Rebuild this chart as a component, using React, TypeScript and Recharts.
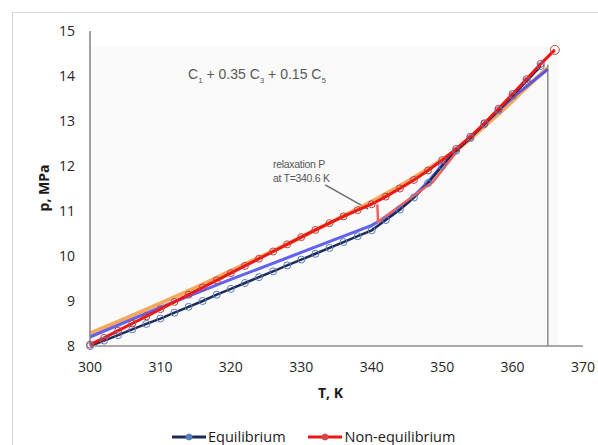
import React from 'react';
import { ComposedChart, Line, XAxis, YAxis, ReferenceLine, ReferenceArea } from 'recharts';

// temperature, K and pressure, MPa
const eqT = [300, 302, 304, 306, 308, 310, 312, 314, 316, 318, 320, 322, 324, 326, 328, 330, 332, 334, 336, 338, 340, 342, 344, 346, 348, 350, 352, 354, 356, 358, 360, 362, 364];
const eqP = [8.0, 8.12, 8.24, 8.37, 8.49, 8.61, 8.74, 8.87, 9.0, 9.14, 9.27, 9.4, 9.53, 9.66, 9.79, 9.92, 10.05, 10.18, 10.31, 10.44, 10.57, 10.8, 11.03, 11.3, 11.62, 12.0, 12.34, 12.62, 12.93, 13.24, 13.56, 13.89, 14.22];

const neqT = [300, 302, 304, 306, 308, 310, 312, 314, 316, 318, 320, 322, 324, 326, 328, 330, 332, 334, 336, 338, 340, 342, 344, 346, 348, 350, 352, 354, 356, 358, 360, 362, 364, 366];
const neqP = [8.03, 8.18, 8.34, 8.5, 8.66, 8.82, 8.98, 9.14, 9.3, 9.46, 9.62, 9.78, 9.94, 10.1, 10.26, 10.42, 10.58, 10.73, 10.88, 11.02, 11.15, 11.32, 11.5, 11.69, 11.9, 12.13, 12.38, 12.65, 12.95, 13.27, 13.6, 13.93, 14.27, 14.58];

const blueT = [300, 310, 320, 330, 340, 342, 344, 346, 348, 350, 352, 356, 360, 365];
const blueP = [8.2, 8.86, 9.48, 10.08, 10.68, 10.86, 11.06, 11.33, 11.65, 12.02, 12.36, 12.93, 13.52, 14.15];

const orangeT = [300, 305, 310, 315, 320, 325, 330, 335, 340, 345, 350, 353, 356, 359, 362, 365];
const orangeP = [8.28, 8.61, 8.95, 9.3, 9.67, 10.04, 10.42, 10.81, 11.21, 11.65, 12.14, 12.47, 12.88, 13.3, 13.75, 14.18];

// relaxation branch at T = 340.6 K
const relaxT = [340.8, 340.9, 344.3, 348.7, 352];
const relaxP = [11.15, 10.76, 11.15, 11.65, 12.3];

const xTicks = [300, 310, 320, 330, 340, 350, 360, 370];
const yTicks = [8, 9, 10, 11, 12, 13, 14, 15];

const toPoints = (t: number[], p: number[]) => t.map((T, i) => ({ T, p: p[i] }));

const eqData = toPoints(eqT, eqP);
const neqData = toPoints(neqT, neqP);
const blueData = toPoints(blueT, blueP);
const orangeData = toPoints(orangeT, orangeP);
const relaxData = toPoints(relaxT, relaxP);

const tickStyle = { fontFamily: 'Open Sans', fontSize: 14, fill: '#262626' };

const redDot = (props: any) => {
  const { cx, cy, index } = props;
  const last = index === neqData.length - 1;
  return (
    <circle key={`r${index}`} cx={cx} cy={cy} r={last ? 4.5 : 3.5} fill="none" stroke="#b84444" strokeWidth={1} />
  );
};

export default function App() {
  return (
    <div style={{ position: 'absolute', left: 0, top: 0, width: 598, height: 445, background: '#fff', overflow: 'hidden' }}>
      <div style={{ position: 'absolute', left: 12, top: 12, width: 600, height: 440, borderTop: '1px solid #d6d6d6', borderLeft: '1px solid #d6d6d6' }} />
      <ComposedChart width={598} height={445} margin={{ top: 31, right: 15, bottom: 69, left: 50 }}>
        <XAxis
          dataKey="T"
          type="number"
          domain={[300, 370]}
          ticks={xTicks}
          tickLine={false}
          tickSize={0}
          tickMargin={16}
          height={30}
          axisLine={{ stroke: '#8c8c8c', strokeWidth: 1.5 }}
          tick={tickStyle}
        />
        <YAxis
          type="number"
          domain={[8, 15]}
          ticks={yTicks}
          tickLine={false}
          tickSize={0}
          tickMargin={15}
          width={40}
          axisLine={{ stroke: '#808080', strokeWidth: 1.5 }}
          tick={tickStyle}
        />
        <ReferenceArea x1={300} x2={366.5} y1={8} y2={14.65} fill="#fafafa" fillOpacity={1} stroke="none" />
        <ReferenceLine segment={[{ x: 365, y: 8 }, { x: 365, y: 14.25 }]} stroke="#8a8a8a" strokeWidth={1.5} />
        <ReferenceLine segment={[{ x: 333.4, y: 11.58 }, { x: 339.5, y: 11.04 }]} stroke="#6b6b6b" strokeWidth={1.5} />
        <Line data={orangeData} dataKey="p" type="monotone" stroke="#f5a04a" strokeOpacity={0.9} strokeWidth={4} dot={false} isAnimationActive={false} />
        <Line data={blueData} dataKey="p" type="linear" stroke="#4646ee" strokeOpacity={0.85} strokeWidth={3} dot={false} isAnimationActive={false} />
        <Line data={eqData} dataKey="p" type="linear" stroke="#1d2b58" strokeWidth={2.5} dot={{ r: 3.5, fill: 'none', stroke: '#5a7cc0', strokeWidth: 1 }} isAnimationActive={false} />
        <Line data={relaxData} dataKey="p" type="linear" stroke="#f26060" strokeWidth={2.5} dot={false} isAnimationActive={false} />
        <Line data={neqData} dataKey="p" type="linear" stroke="#f01414" strokeWidth={3} dot={redDot} isAnimationActive={false} />
      </ComposedChart>

      <div style={{ position: 'absolute', left: 188, top: 66, fontFamily: 'Liberation Sans', fontSize: 14, color: '#595959', whiteSpace: 'nowrap' }}>
        C<sub style={{ fontSize: 8 }}>1</sub> + 0.35 C<sub style={{ fontSize: 8 }}>3</sub> + 0.15 C<sub style={{ fontSize: 8 }}>5</sub>
      </div>
      <div style={{ position: 'absolute', left: 273, top: 157, fontFamily: 'Liberation Sans', fontSize: 10.5, lineHeight: '14px', color: '#555', whiteSpace: 'nowrap', letterSpacing: -0.3 }}>
        relaxation P<br />at T=340.6 K
      </div>
      <div style={{ position: 'absolute', left: 318, top: 383, fontFamily: 'Open Sans', fontWeight: 'bold', fontSize: 14, color: '#1a1a1a', whiteSpace: 'nowrap' }}>
        T, K
      </div>
      <div style={{ position: 'absolute', left: 43, top: 188, transform: 'translate(-50%, -50%) rotate(-90deg)', fontFamily: 'Open Sans', fontWeight: 'bold', fontSize: 14, color: '#1a1a1a', whiteSpace: 'nowrap' }}>
        p, MPa
      </div>

      <div style={{ position: 'absolute', left: 172, top: 427, display: 'flex', alignItems: 'center', fontFamily: 'Open Sans', fontSize: 14.5, color: '#1a1a1a', whiteSpace: 'nowrap' }}>
        <svg width={34} height={10}>
          <line x1={0} y1={5} x2={34} y2={5} stroke="#1d2b58" strokeWidth={3} />
          <circle cx={17} cy={5} r={3} fill="#5a7cc0" stroke="#5a7cc0" />
        </svg>
        <span style={{ marginLeft: 2, marginRight: 22 }}>Equilibrium</span>
        <svg width={34} height={10}>
          <line x1={0} y1={5} x2={34} y2={5} stroke="#f01414" strokeWidth={3} />
          <circle cx={17} cy={5} r={3} fill="#d04a4a" stroke="#d04a4a" />
        </svg>
        <span style={{ marginLeft: 3 }}>Non-equilibrium</span>
      </div>
    </div>
  );
}
